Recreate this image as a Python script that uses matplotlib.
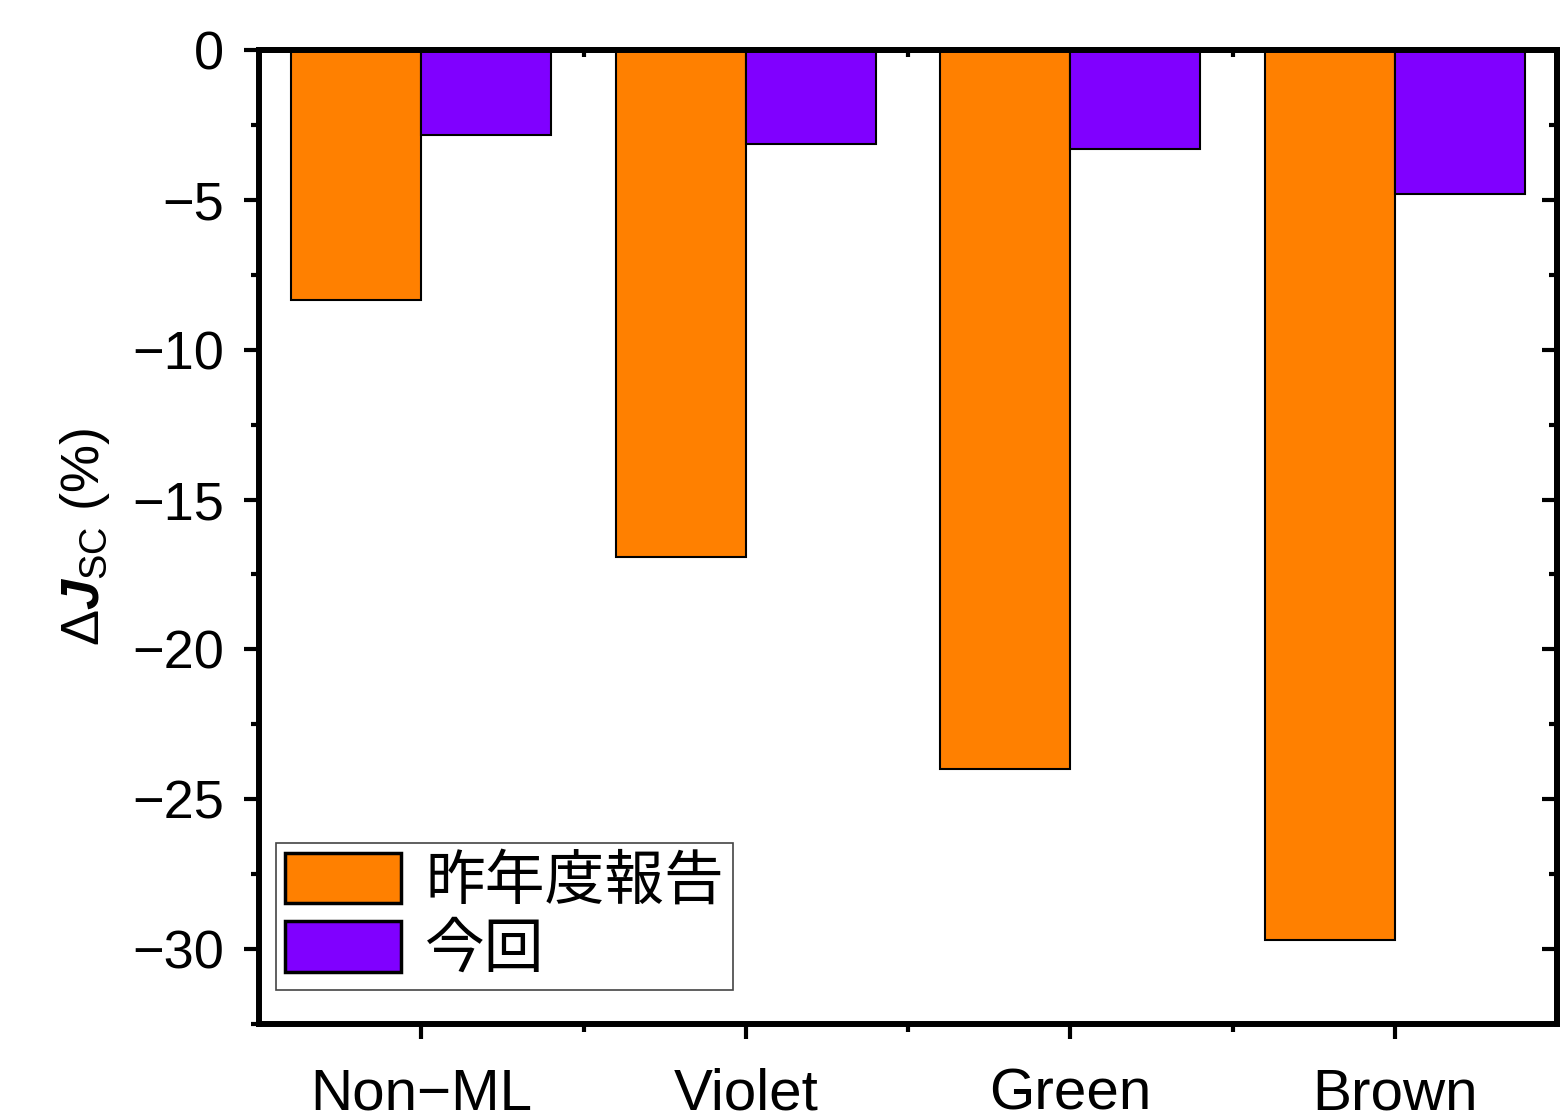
import numpy as np
import matplotlib
matplotlib.use("Agg")
import matplotlib.pyplot as plt
from matplotlib.ticker import MultipleLocator, FixedLocator

plt.rcParams['font.family'] = ['Liberation Sans', 'Noto Sans CJK JP', 'DejaVu Sans']
plt.rcParams['mathtext.fontset'] = 'custom'
plt.rcParams['mathtext.rm'] = 'Liberation Sans'
plt.rcParams['mathtext.it'] = 'Liberation Sans:italic:bold'

categories = ["Non\u2212ML", "Violet", "Green", "Brown"]
last_year = [-8.35, -16.9, -24.0, -29.7]
this_time = [-2.85, -3.15, -3.3, -4.8]
series_names = ["昨年度報告", "今回"]

fig = plt.figure(figsize=(15.63, 11.16), dpi=100)
ax = fig.add_axes([0.1657, 0.0824, 0.8305, 0.8728])

x = np.arange(1, len(categories) + 1)
w = 0.4
ax.bar(x - w / 2, last_year, w, color="#FF8000", edgecolor="black", linewidth=1.5,
       label=series_names[0])
ax.bar(x + w / 2, this_time, w, color="#8000FF", edgecolor="black", linewidth=1.5,
       label=series_names[1])

ax.set_xlim(0.5, 4.5)
ax.set_ylim(-32.5, 0)
ax.set_xticks(x)
ax.set_xticklabels(categories, fontsize=42)
ax.xaxis.set_minor_locator(FixedLocator([1.5, 2.5, 3.5]))
ax.yaxis.set_major_locator(MultipleLocator(5))
ax.yaxis.set_minor_locator(MultipleLocator(2.5))
ax.set_yticks([0, -5, -10, -15, -20, -25, -30])
ax.set_yticklabels(["0", "\u22125", "\u221210", "\u221215", "\u221220", "\u221225", "\u221230"],
                   fontsize=39)

for s in ax.spines.values():
    s.set_linewidth(4.3)

ax.tick_params(axis='y', which='major', direction='out', length=11, width=3, pad=14)
ax.tick_params(axis='y', which='minor', direction='out', length=6, width=3)
ax.tick_params(axis='x', which='major', direction='out', length=11, width=3, pad=20)
ax.tick_params(axis='x', which='minor', direction='out', length=6, width=3)

# mirrored ticks pointing inward on top and right
axr = ax.secondary_yaxis('right')
axr.yaxis.set_major_locator(MultipleLocator(5))
axr.yaxis.set_minor_locator(MultipleLocator(2.5))
axr.tick_params(which='major', direction='in', length=11, width=3, labelright=False)
axr.tick_params(which='minor', direction='in', length=6, width=3)
axr.spines['right'].set_linewidth(4.3)
axt = ax.secondary_xaxis('top')
axt.set_xticks(x)
axt.xaxis.set_minor_locator(FixedLocator([1.5, 2.5, 3.5]))
axt.tick_params(which='major', direction='in', length=11, width=3, labeltop=False)
axt.tick_params(which='minor', direction='in', length=5, width=3)
axt.spines['top'].set_linewidth(4.3)

ax.set_ylabel(r"$\Delta\mathit{J}_{\rm SC}$ (%)", fontsize=39, labelpad=15)

leg = ax.legend(loc="lower left", bbox_to_anchor=(0.013, 0.035), borderaxespad=0,
                prop={'family': ['Noto Sans CJK JP'], 'size': 43},
                fancybox=False, edgecolor="#444444", framealpha=1,
                handlelength=1.95, handleheight=0.92, handletextpad=0.4,
                labelspacing=0.12, borderpad=0.15)
leg.get_frame().set_linewidth(1.2)
for p in leg.get_patches():
    p.set_linewidth(2.5)

fig.savefig("out.png", dpi=100)
